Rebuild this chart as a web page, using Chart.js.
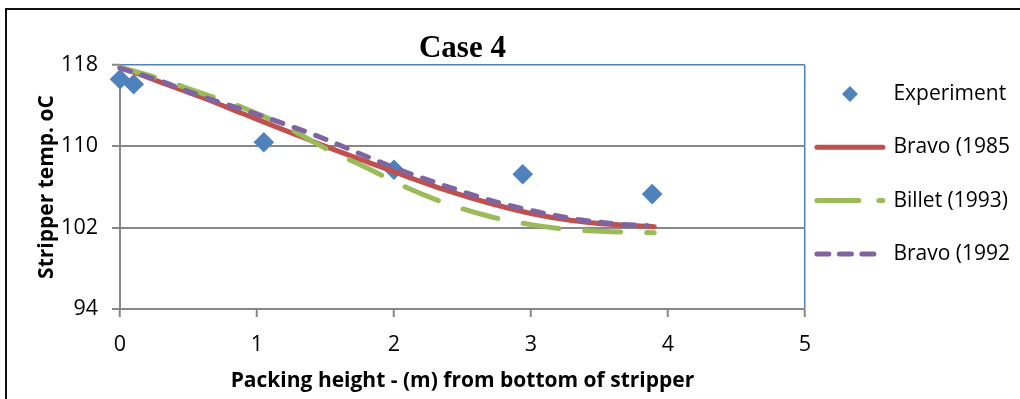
<!DOCTYPE html>
<html>
<head>
<meta charset="utf-8">
<script src="https://cdn.jsdelivr.net/npm/chart.js@4/dist/chart.umd.min.js"></script>
<style>
  body { margin: 0; background: #fff; }
  #wrap { position: relative; width: 1020px; height: 399px; overflow: hidden; }
  #frame { position: absolute; left: 5px; top: 8px; width: 1100px; height: 500px;
           border-top: 2px solid #111; border-left: 2px solid #111; pointer-events: none; }
</style>
</head>
<body>
<div id="wrap">
  <canvas id="chart" width="1020" height="399"></canvas>
  <div id="frame"></div>
</div>
<script>
// values
const expX = [0, 0.1, 1.05, 2.0, 2.94, 3.885];
const expY = [116.6, 116.1, 110.4, 107.7, 107.25, 105.3];

const modelX = [0, 0.3, 0.6, 0.9, 1.2, 1.5, 1.8, 2.1, 2.4, 2.7, 3.0, 3.3, 3.6, 3.9];
const bravo1985Y = [117.8, 116.3, 114.8, 113.2, 111.6, 110.0, 108.5, 107.0, 105.6, 104.4, 103.4, 102.7, 102.3, 102.1];
const billet1993Y = [117.8, 116.6, 115.2, 113.8, 112.0, 109.8, 107.9, 105.9, 104.3, 103.1, 102.3, 101.8, 101.6, 101.5];

const bravo1992X = [0, 0.3, 0.6, 0.9, 1.2, 1.5, 1.8, 2.1, 2.4, 2.7, 3.0, 3.3, 3.6, 3.85];
const bravo1992Y = [117.7, 116.4, 114.9, 113.6, 112.2, 110.7, 109.0, 107.4, 106.0, 104.7, 103.7, 102.9, 102.4, 102.2];

const labels = ["Experiment", "Bravo (1985", "Billet (1993)", "Bravo (1992"];
const xTicks = [0, 1, 2, 3, 4, 5];
const yTicks = [94, 102, 110, 118];

const BLUE = "#4f81bd";
const RED = "#c0504d";
const GREEN = "#9bbb59";
const PURPLE = "#8064a2";
const AXIS = "#878787";
const FONT = "'Open Sans', sans-serif";

function toPoints(xs, ys) {
  return xs.map((x, i) => ({ x: x, y: ys[i] }));
}

function lineSet(label, color, xs, ys, dash, order) {
  return {
    label: label,
    data: toPoints(xs, ys),
    showLine: true,
    borderColor: color,
    backgroundColor: color,
    borderWidth: 5,
    borderDash: dash,
    borderCapStyle: "round",
    borderJoinStyle: "round",
    cubicInterpolationMode: "monotone",
    pointRadius: 0,
    clip: false,
    order: order,
  };
}

// small diamond icon for the legend entry of the measured points
const diamondIcon = document.createElement("canvas");
diamondIcon.width = 18;
diamondIcon.height = 18;
(function () {
  const c = diamondIcon.getContext("2d");
  c.fillStyle = BLUE;
  c.beginPath();
  c.moveTo(9, 1);
  c.lineTo(17, 9);
  c.lineTo(9, 17);
  c.lineTo(1, 9);
  c.closePath();
  c.fill();
})();

const legendDash = [[], [], [42, 20], [12, 10.5]];

const datasets = [
  {
    label: labels[0],
    data: toPoints(expX, expY),
    pointStyle: "rectRot",
    pointRadius: 10.3,
    pointBorderWidth: 0,
    backgroundColor: BLUE,
    borderColor: BLUE,
    showLine: false,
    clip: false,
    order: 4,
  },
  lineSet(labels[1], RED, modelX, bravo1985Y, [], 3),
  lineSet(labels[2], GREEN, modelX, billet1993Y, [36, 26], 2),
  lineSet(labels[3], PURPLE, bravo1992X, bravo1992Y, [11, 12], 1),
];

new Chart(document.getElementById("chart"), {
  type: "scatter",
  data: { datasets: datasets },
  options: {
    responsive: false,
    animation: false,
    devicePixelRatio: 1,
    events: [],
    layout: { padding: 0 },
    plugins: {
      tooltip: { enabled: false },
      title: {
        display: true,
        text: "Case 4",
        fullSize: false,
        color: "#000",
        font: { family: "'Liberation Serif', serif", size: 31, weight: "bold", lineHeight: 1 },
        padding: { top: 33, bottom: 1 },
      },
      legend: {
        position: "right",
        align: "start",
        maxWidth: 217,
        title: { display: true, text: "", font: { size: 10, lineHeight: 1 }, padding: { top: 61.5, bottom: 0 } },
        labels: {
          usePointStyle: true,
          pointStyleWidth: 66,
          padding: 12,
          color: "#000",
          font: { family: FONT, size: 21, lineHeight: 1.967 },
          generateLabels: (chart) =>
            chart.data.datasets.map((ds, i) => ({
              text: [ds.label],
              datasetIndex: i,
              fillStyle: ds.backgroundColor,
              strokeStyle: ds.borderColor,
              lineWidth: i === 0 ? 0 : ds.borderWidth,
              lineDash: legendDash[i],
              lineCap: "round",
              pointStyle: i === 0 ? diamondIcon : "line",
              fontColor: "#000",
              hidden: false,
            })),
        },
      },
    },
    scales: {
      x: {
        type: "linear",
        min: xTicks[0],
        max: xTicks[xTicks.length - 1],
        afterFit: (s) => { s.height = 90; },
        afterBuildTicks: (s) => { s.ticks = xTicks.map((v) => ({ value: v })); },
        ticks: { color: "#000", padding: 15, font: { family: FONT, size: 21.5 } },
        grid: {
          drawOnChartArea: true,
          color: (ctx) => (ctx.tick && ctx.tick.value === 5 ? BLUE : "rgba(0,0,0,0)"),
          lineWidth: 1.5,
          tickColor: AXIS,
          tickLength: 8,
          tickWidth: 2,
        },
        border: { display: true, color: AXIS, width: 2 },
        title: {
          display: true,
          text: "Packing height - (m) from bottom of stripper",
          color: "#000",
          font: { family: FONT, size: 21, weight: "bold", lineHeight: 1.2 },
          padding: { top: 0, bottom: 5 },
        },
      },
      y: {
        type: "linear",
        min: yTicks[0],
        max: yTicks[yTicks.length - 1],
        afterFit: (s) => { s.width = 120; },
        afterBuildTicks: (s) => { s.ticks = yTicks.map((v) => ({ value: v })); },
        ticks: { color: "#000", padding: 14, font: { family: FONT, size: 21.5 } },
        grid: {
          color: (ctx) => (ctx.tick && ctx.tick.value === 118 ? BLUE : AXIS),
          lineWidth: (ctx) => (ctx.tick && ctx.tick.value === 118 ? 1.5 : 2),
          tickColor: AXIS,
          tickLength: 8,
          tickWidth: 2,
        },
        border: { display: true, color: AXIS, width: 2 },
        title: {
          display: true,
          text: "Stripper temp. oC",
          color: "#000",
          font: { family: FONT, size: 21, weight: "bold", lineHeight: 1.2 },
          padding: { top: 34, bottom: 0 },
        },
      },
    },
  },
});
</script>
</body>
</html>
